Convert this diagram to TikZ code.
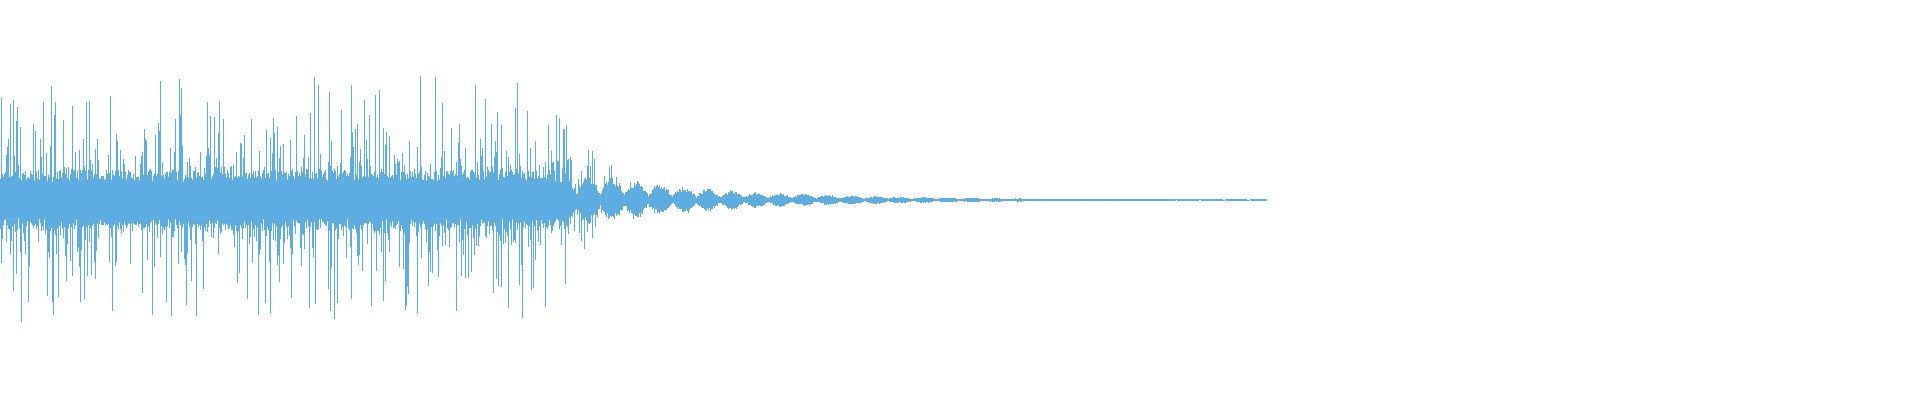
\documentclass[tikz,border=0pt]{standalone}
\definecolor{wave}{HTML}{5DADE2}
\begin{document}
\begin{tikzpicture}[x=0.01cm,y=0.01cm,wavestroke/.style={draw=wave,line width=0.25pt}]
\useasboundingbox (0,0) rectangle (1920,400);
\pgfmathsetseed{7}
\foreach \i in {0,...,1266}{
 \pgfmathsetmacro\d{max(\i-560,0)}
 \pgfmathsetmacro\env{\i<560 ? 1 : exp(-\d/150)*(0.25+0.75*abs(sin(\i*7.5)))}
 \pgfmathsetmacro\sp{\d>400 ? 0 : exp(-\d/40)}
 \pgfmathsetmacro\a{\env*(18+12*rnd+\sp*95*rnd^6)+0.4}
 \pgfmathsetmacro\b{\env*(18+12*rnd+\sp*95*rnd^6)+0.4}
 \draw[wavestroke] (\i+0.5,200-\a) -- (\i+0.5,200+\b);
}
\end{tikzpicture}
\end{document}
